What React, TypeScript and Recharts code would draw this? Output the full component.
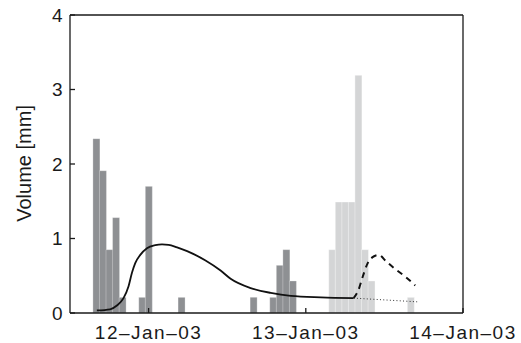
import React from 'react';
import { ComposedChart, Bar, Line, XAxis, YAxis } from 'recharts';

// Hour slots (hours relative to 12-Jan-03 00:00), one hourly bin each
const hourSlots = [
  -11, -10, -9, -8, -7, -6, -5, -4, -3, -2, -1, 0, 1, 2, 3, 4, 5, 6, 7, 8, 9,
  10, 11, 12, 13, 14, 15, 16, 17, 18, 19, 20, 21, 22, 23, 24, 25, 26, 27, 28,
  29, 30, 31, 32, 33, 34, 35, 36, 37, 38, 39, 40, 41, 42, 43, 44, 45, 46, 47,
];

// Observed rainfall (dark bars)
const darkHours = [-8, -7, -6, -5, -4, -1, 0, 5, 16, 19, 20, 21, 22];
const darkValues = [2.34, 1.91, 0.85, 1.28, 0.21, 0.21, 1.7, 0.21, 0.21, 0.21, 0.64, 0.85, 0.43];

// Forecast rainfall (light bars)
const lightHours = [28, 29, 30, 31, 32, 33, 34, 40];
const lightValues = [0.85, 1.49, 1.49, 1.49, 3.19, 0.85, 0.43, 0.21];

// Simulated runoff (solid line)
const solidHours = [-7.9, -5.87, -4.84, -3.83, -3.06, -2.54, -2.04, -1.27, -0.25, 1.03, 2.05, 3.06, 4.35, 5.88, 8.69, 10.99, 12.52, 15.58, 18.65, 21.71, 26.3, 31.3];
const solidValues = [0.035, 0.05, 0.1, 0.2, 0.36, 0.54, 0.67, 0.78, 0.87, 0.91, 0.92, 0.915, 0.88, 0.83, 0.705, 0.57, 0.46, 0.335, 0.27, 0.23, 0.21, 0.2];

// Forecast runoff with forecast rain (dashed line)
const dashedHours = [31.3, 32.0, 32.7, 33.4, 34.2, 35.1, 36.3, 37.5, 39.3, 40.7];
const dashedValues = [0.2, 0.3, 0.49, 0.66, 0.75, 0.78, 0.69, 0.6, 0.48, 0.37];

// Forecast runoff without rain (dotted line)
const dottedHours = [31.3, 41.0];
const dottedValues = [0.2, 0.15];

// Axis ticks
const dateTicks = [0, 24, 48];
const dateLabels = ['12\u2013Jan\u201303', '13\u2013Jan\u201303', '14\u2013Jan\u201303'];
const volumeTicks = [0, 1, 2, 3, 4];

const FONT = '"Liberation Sans", Arial, Helvetica, sans-serif';
const AXIS = '#1a1a1a';

export default function App() {
  const table = hourSlots.map((h) => {
    const di = darkHours.indexOf(h);
    const li = lightHours.indexOf(h);
    return {
      h,
      dark: di >= 0 ? darkValues[di] : 0,
      light: li >= 0 ? lightValues[li] : 0,
    };
  });
  const solid = solidHours.map((t, i) => ({ t, v: solidValues[i] }));
  const dashed = dashedHours.map((t, i) => ({ t, v: dashedValues[i] }));
  const dotted = dottedHours.map((t, i) => ({ t, v: dottedValues[i] }));

  const renderYLabel = () => (
    <text
      x={31}
      y={163.4}
      transform="rotate(-90, 31, 163.4)"
      textAnchor="middle"
      fontSize={20}
      fontFamily={FONT}
      fill="#1a1a1a"
    >
      Volume [mm]
    </text>
  );

  return (
    <div style={{ position: 'absolute', left: 0, top: 0, fontFamily: FONT }}>
      <ComposedChart
        width={521}
        height={343}
        data={table}
        margin={{ top: 14, right: 57, bottom: 0, left: 8 }}
        barCategoryGap={0}
        barGap={0}
      >
        <XAxis
          xAxisId="time"
          dataKey="t"
          type="number"
          domain={[-12, 48]}
          allowDataOverflow
          ticks={dateTicks}
          interval={0}
          tickFormatter={(v: number) => dateLabels[dateTicks.indexOf(v)]}
          height={30}
          tickSize={-5}
          tickMargin={18}
          stroke={AXIS}
          strokeWidth={1.3}
          tick={{ fontSize: 19, fill: '#1a1a1a', fontFamily: FONT, letterSpacing: 1.5 }}
        />
        <XAxis
          xAxisId="top"
          dataKey="t"
          type="number"
          orientation="top"
          domain={[-12, 48]}
          allowDataOverflow
          ticks={dateTicks}
          interval={0}
          height={1}
          tickSize={-5}
          tick={false}
          stroke={AXIS}
          strokeWidth={1.3}
        />
        <XAxis
          xAxisId="bars"
          dataKey="h"
          type="category"
          hide
          height={0}
          padding={{ left: 3.26, right: 3.26 }}
        />
        <YAxis
          yAxisId="left"
          type="number"
          domain={[0, 4]}
          ticks={volumeTicks}
          interval={0}
          width={62}
          tickSize={-5}
          tickMargin={12.5}
          stroke={AXIS}
          strokeWidth={1.3}
          tick={{ fontSize: 19, fill: '#1a1a1a', fontFamily: FONT }}
          label={renderYLabel}
        />
        <YAxis
          yAxisId="right"
          type="number"
          orientation="right"
          domain={[0, 4]}
          ticks={volumeTicks}
          interval={0}
          width={1}
          tickSize={-5}
          tick={false}
          stroke={AXIS}
          strokeWidth={1.3}
        />
        <Bar
          xAxisId="bars"
          yAxisId="left"
          dataKey="dark"
          stackId="rain"
          fill="#8e9093"
          stroke="#ffffff"
          strokeOpacity={0.45}
          strokeWidth={0.6}
          isAnimationActive={false}
        />
        <Bar
          xAxisId="bars"
          yAxisId="left"
          dataKey="light"
          stackId="rain"
          fill="#d4d5d6"
          stroke="#ffffff"
          strokeOpacity={0.6}
          strokeWidth={0.6}
          isAnimationActive={false}
        />
        <Line
          xAxisId="time"
          yAxisId="left"
          data={solid}
          dataKey="v"
          type="monotone"
          stroke="#111"
          strokeWidth={1.8}
          dot={false}
          activeDot={false}
          isAnimationActive={false}
        />
        <Line
          xAxisId="time"
          yAxisId="left"
          data={dashed}
          dataKey="v"
          type="monotone"
          stroke="#111"
          strokeWidth={2}
          strokeDasharray="6 5"
          dot={false}
          activeDot={false}
          isAnimationActive={false}
        />
        <Line
          xAxisId="time"
          yAxisId="left"
          data={dotted}
          dataKey="v"
          type="linear"
          stroke="#333"
          strokeWidth={1}
          strokeDasharray="1 2.3"
          dot={false}
          activeDot={false}
          isAnimationActive={false}
        />
      </ComposedChart>
    </div>
  );
}
